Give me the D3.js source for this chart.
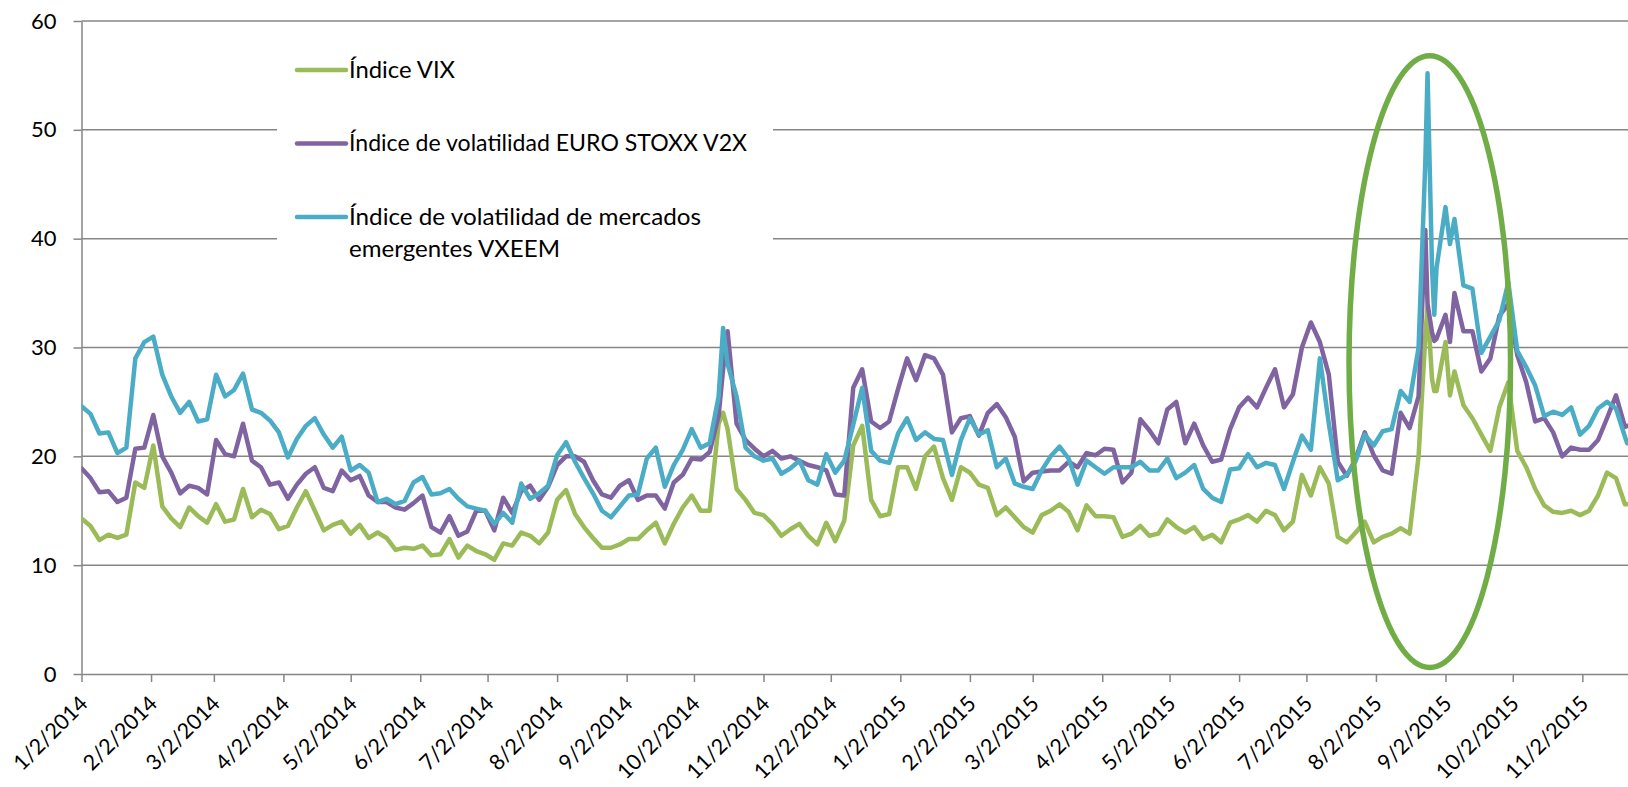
<!DOCTYPE html>
<html>
<head>
<meta charset="utf-8">
<script src="https://cdn.jsdelivr.net/npm/d3@7"></script>
<style>
  body { margin: 0; background: #fff; }
  svg text { font-family: Lato, "DejaVu Sans", sans-serif; fill: #000; }
</style>
</head>
<body>
<svg id="chart" width="1628" height="787"></svg>
<script>
// sample dates (roughly every 4 days, plus the spike days)
const dates = [
  "2014-01-02","2014-01-06","2014-01-10","2014-01-14","2014-01-18","2014-01-22","2014-01-26","2014-01-30",
  "2014-02-03","2014-02-07","2014-02-11","2014-02-15","2014-02-19","2014-02-23","2014-02-27",
  "2014-03-03","2014-03-07","2014-03-11","2014-03-15","2014-03-19","2014-03-23","2014-03-27","2014-03-31",
  "2014-04-04","2014-04-08","2014-04-12","2014-04-16","2014-04-20","2014-04-24","2014-04-28",
  "2014-05-02","2014-05-06","2014-05-10","2014-05-14","2014-05-18","2014-05-22","2014-05-26","2014-05-30",
  "2014-06-03","2014-06-07","2014-06-11","2014-06-15","2014-06-19","2014-06-23","2014-06-27",
  "2014-07-01","2014-07-05","2014-07-09","2014-07-13","2014-07-17","2014-07-21","2014-07-25","2014-07-29",
  "2014-08-02","2014-08-06","2014-08-10","2014-08-14","2014-08-18","2014-08-22","2014-08-26","2014-08-30",
  "2014-09-03","2014-09-07","2014-09-11","2014-09-15","2014-09-19","2014-09-23","2014-09-27",
  "2014-10-01","2014-10-05","2014-10-09","2014-10-13","2014-10-15","2014-10-17","2014-10-21","2014-10-25","2014-10-29",
  "2014-11-02","2014-11-06","2014-11-10","2014-11-14","2014-11-18","2014-11-22","2014-11-26","2014-11-30",
  "2014-12-04","2014-12-08","2014-12-12","2014-12-16","2014-12-20","2014-12-24","2014-12-28",
  "2015-01-01","2015-01-05","2015-01-09","2015-01-13","2015-01-17","2015-01-21","2015-01-25","2015-01-29",
  "2015-02-02","2015-02-06","2015-02-10","2015-02-14","2015-02-18","2015-02-22","2015-02-26",
  "2015-03-02","2015-03-06","2015-03-10","2015-03-14","2015-03-18","2015-03-22","2015-03-26","2015-03-30",
  "2015-04-03","2015-04-07","2015-04-11","2015-04-15","2015-04-19","2015-04-23","2015-04-27",
  "2015-05-01","2015-05-05","2015-05-09","2015-05-13","2015-05-17","2015-05-21","2015-05-25","2015-05-29",
  "2015-06-02","2015-06-06","2015-06-10","2015-06-14","2015-06-18","2015-06-22","2015-06-26","2015-06-30",
  "2015-07-04","2015-07-08","2015-07-12","2015-07-16","2015-07-20","2015-07-24","2015-07-28",
  "2015-08-01","2015-08-05","2015-08-09","2015-08-13","2015-08-17","2015-08-21","2015-08-24","2015-08-25","2015-08-27","2015-08-28","2015-08-29",
  "2015-09-02","2015-09-04","2015-09-06","2015-09-10","2015-09-14","2015-09-18","2015-09-22","2015-09-26","2015-09-30",
  "2015-10-04","2015-10-08","2015-10-12","2015-10-16","2015-10-20","2015-10-24","2015-10-28",
  "2015-11-01","2015-11-05","2015-11-09","2015-11-13","2015-11-17","2015-11-21","2015-11-22"
];

const vix = [
  14.3,13.6,12.3,12.8,12.5,12.8,17.6,17.1,
  21.0,15.4,14.3,13.5,15.3,14.5,13.9,
  15.6,14.0,14.2,17.0,14.4,15.1,14.7,13.3,
  13.6,15.3,16.8,15.0,13.2,13.7,14.0,
  12.9,13.7,12.5,13.0,12.5,11.4,11.6,11.5,
  11.8,10.9,11.0,12.4,10.7,11.8,11.3,
  11.0,10.5,12.0,11.8,13.0,12.7,12.0,13.0,
  16.0,16.9,14.7,13.5,12.5,11.6,11.6,11.9,
  12.4,12.4,13.2,13.9,12.0,13.8,15.3,
  16.4,15.0,15.0,23.0,24.0,22.5,17.0,16.0,14.8,
  14.6,13.8,12.7,13.3,13.8,12.7,11.9,13.9,
  12.2,14.1,21.0,22.8,16.0,14.5,14.7,
  19.0,19.0,17.0,20.0,20.9,18.0,16.0,19.0,
  18.5,17.4,17.1,14.6,15.3,14.4,13.5,
  13.0,14.6,15.0,15.6,14.9,13.2,15.5,14.5,
  14.5,14.4,12.6,12.9,13.6,12.7,12.9,
  14.2,13.5,13.0,13.5,12.4,12.8,12.1,13.9,
  14.2,14.6,14.0,15.0,14.6,13.2,14.0,18.3,
  16.4,19.0,17.5,12.6,12.1,13.0,14.0,
  12.1,12.6,12.9,13.4,12.9,20.0,31.0,33.8,27.1,26.0,26.0,
  30.5,25.6,27.8,24.7,23.5,22.0,20.5,24.5,26.8,
  20.5,19.0,17.0,15.5,14.9,14.8,15.0,
  14.6,15.0,16.4,18.5,18.0,15.6,15.6
];

const v2x = [
  18.9,18.0,16.7,16.8,15.8,16.2,20.7,20.8,
  23.8,20.0,18.5,16.6,17.3,17.1,16.5,
  21.5,20.2,20.0,23.0,19.6,19.0,17.4,17.6,
  16.1,17.4,18.4,19.0,17.1,16.8,18.7,
  17.8,18.2,16.4,15.8,15.8,15.3,15.1,15.7,
  16.4,13.5,13.0,14.5,12.7,13.1,15.0,
  15.0,13.2,16.2,14.8,16.8,17.3,16.0,17.2,
  19.2,20.0,20.0,19.5,17.8,16.5,16.2,17.3,
  17.8,16.0,16.4,16.4,15.2,17.6,18.3,
  19.8,19.7,20.4,23.7,28.0,31.5,23.0,21.5,20.7,
  20.0,20.5,19.8,20.0,19.6,19.2,19.0,18.7,
  16.5,16.4,26.3,28.0,23.2,22.6,23.2,
  26.2,29.0,27.0,29.3,29.0,27.5,22.2,23.5,
  23.7,21.9,24.0,24.8,23.6,21.8,17.7,
  18.5,18.6,18.7,18.7,19.5,19.0,20.3,20.1,
  20.7,20.6,17.6,18.5,23.4,22.4,21.2,
  24.3,25.0,21.2,23.0,21.0,19.5,19.7,22.5,
  24.5,25.4,24.5,26.3,28.0,24.5,25.7,30.0,
  32.3,30.5,27.5,19.5,18.2,19.8,22.2,
  20.1,18.7,18.4,24.0,22.6,25.5,40.8,34.0,31.4,30.6,30.8,
  33.0,30.5,35.0,31.5,31.5,27.8,29.0,32.9,34.0,
  29.3,26.8,23.2,23.5,22.2,20.0,20.8,
  20.6,20.6,21.5,23.5,25.6,22.7,22.8
];

const vxeem = [
  24.6,23.9,22.1,22.2,20.3,20.8,29.0,30.5,
  31.0,27.5,25.5,24.0,25.0,23.2,23.4,
  27.5,25.5,26.1,27.6,24.3,24.0,23.3,22.2,
  19.9,21.6,22.8,23.5,22.0,20.8,21.8,
  18.7,19.2,18.5,15.8,16.1,15.6,15.9,17.6,
  18.1,16.5,16.6,17.0,16.1,15.4,15.2,
  15.0,13.8,14.8,13.9,17.5,16.1,16.6,17.3,
  20.1,21.3,19.5,18.0,16.6,15.0,14.4,15.4,
  16.4,16.5,19.8,20.8,17.2,19.2,20.6,
  22.5,20.8,21.2,25.5,31.8,28.5,25.5,20.8,20.0,
  19.6,19.8,18.4,18.9,19.6,17.8,17.4,20.2,
  18.5,19.6,22.9,26.3,20.5,19.6,19.4,
  22.1,23.5,21.5,22.2,21.6,21.5,18.3,21.5,
  23.5,22.0,22.4,19.0,19.8,17.5,17.2,
  17.0,18.7,20.0,20.9,19.8,17.4,19.6,19.0,
  18.4,19.0,19.0,19.0,19.5,18.7,18.7,
  19.8,18.0,18.5,19.2,17.0,16.2,15.8,18.8,
  18.9,20.2,19.0,19.4,19.2,17.0,19.5,21.9,
  20.6,29.0,23.0,17.8,18.3,19.6,22.0,
  21.0,22.3,22.5,26.0,25.0,30.0,47.0,55.2,37.3,33.0,37.3,
  42.9,39.5,41.8,35.7,35.4,29.5,31.0,32.5,36.0,
  29.7,28.2,26.5,23.7,24.1,23.8,24.5,
  22.0,22.8,24.4,25.0,24.4,21.8,21.2
];

const seriesNames = [
  "Índice VIX",
  "Índice de volatilidad EURO STOXX V2X",
  "Índice de volatilidad de mercados emergentes VXEEM"
];
const seriesColors = ["#9BBB59", "#8064A2", "#4BACC6"];

const yTicks = [0, 10, 20, 30, 40, 50, 60];
const xTicks = [
  "2014-01-02","2014-02-02","2014-03-02","2014-04-02","2014-05-02","2014-06-02",
  "2014-07-02","2014-08-02","2014-09-02","2014-10-02","2014-11-02","2014-12-02",
  "2015-01-02","2015-02-02","2015-03-02","2015-04-02","2015-05-02","2015-06-02",
  "2015-07-02","2015-08-02","2015-09-02","2015-10-02","2015-11-02"
];

const svg = d3.select("#chart");
const parse = d3.timeParse("%Y-%m-%d");

const plotLeft = 81.5, plotRight = 81.5 + 690 * 2.2434;
const plotTop = 21, plotBottom = 674;

const x = d3.scaleTime()
  .domain([parse("2014-01-02"), parse("2015-11-23")])
  .range([plotLeft, plotRight]);
const y = d3.scaleLinear().domain([0, 60]).range([plotBottom, plotTop]);

const gridColor = "#868686";

// horizontal gridlines
svg.append("g")
  .selectAll("line")
  .data(yTicks.filter(v => v > 0))
  .join("line")
  .attr("x1", plotLeft)
  .attr("x2", 1628)
  .attr("y1", d => y(d))
  .attr("y2", d => y(d))
  .attr("stroke", gridColor)
  .attr("stroke-width", 1.5);

// y axis
const yAxis = svg.append("g")
  .attr("transform", `translate(${plotLeft},0)`)
  .call(d3.axisLeft(y).tickValues(yTicks).tickSize(8).tickSizeOuter(0).tickPadding(17));
yAxis.select(".domain").attr("stroke", gridColor).attr("stroke-width", 1.5);
yAxis.selectAll(".tick line").attr("stroke", gridColor).attr("stroke-width", 1.5);
yAxis.selectAll("text").attr("font-size", 22).style("font-family", "Lato");

// x axis
const fmt = d3.timeFormat("%-m/%-d/%Y");
const xAxis = svg.append("g")
  .attr("transform", `translate(0,${plotBottom})`)
  .call(d3.axisBottom(x).tickValues(xTicks.map(parse)).tickFormat(fmt).tickSize(8).tickSizeOuter(0));
xAxis.select(".domain").attr("stroke", gridColor).attr("stroke-width", 1.5);
xAxis.selectAll(".tick line").attr("stroke", gridColor).attr("stroke-width", 1.5);
xAxis.selectAll("text")
  .attr("font-size", 21.5)
  .style("font-family", "Lato")
  .attr("text-anchor", "end")
  .attr("x", 0).attr("y", 0).attr("dy", 0)
  .attr("transform", "translate(7,31) rotate(-45)");

// legend box (hides gridlines behind it)
const legend = svg.append("g");
legend.append("rect")
  .attr("x", 277).attr("y", 36)
  .attr("width", 496).attr("height", 232)
  .attr("fill", "#fff");

const legendRows = [
  { lines: [seriesNames[0]], cy: 70, widths: [106] },
  { lines: [seriesNames[1]], cy: 143.5, widths: [398] },
  { lines: ["Índice de volatilidad de mercados", "emergentes VXEEM"], cy: 217, widths: [352, 211] }
];

legendRows.forEach((row, i) => {
  legend.append("line")
    .attr("x1", 297).attr("x2", 346)
    .attr("y1", row.cy).attr("y2", row.cy)
    .attr("stroke", seriesColors[i])
    .attr("stroke-width", 4.5)
    .attr("stroke-linecap", "round");
  row.lines.forEach((t, j) => {
    legend.append("text")
      .attr("x", 349)
      .attr("y", row.cy + 7.5 + j * 32.5)
      .attr("font-size", 23)
      .attr("textLength", row.widths[j])
      .attr("lengthAdjust", "spacingAndGlyphs")
      .text(t);
  });
});

// series
const seriesData = [vix, v2x, vxeem].map((vals, i) => ({
  name: seriesNames[i],
  color: seriesColors[i],
  points: dates.map((d, k) => ({ date: parse(d), value: vals[k] }))
}));

svg.append("clipPath").attr("id", "plotClip")
  .append("rect").attr("x", plotLeft).attr("y", 0).attr("width", 1628 - plotLeft).attr("height", plotBottom);

const line = d3.line()
  .x(d => x(d.date))
  .y(d => y(d.value));

svg.append("g")
  .attr("clip-path", "url(#plotClip)")
  .selectAll("path")
  .data(seriesData)
  .join("path")
  .attr("fill", "none")
  .attr("stroke", d => d.color)
  .attr("stroke-width", 4.5)
  .attr("stroke-linejoin", "round")
  .attr("stroke-linecap", "round")
  .attr("d", d => line(d.points));

// highlight ellipse around the August 2015 spike
const ellCenter = parse("2015-08-26");
svg.append("ellipse")
  .attr("cx", x(ellCenter))
  .attr("cy", y(28.7))
  .attr("rx", x(d3.timeDay.offset(ellCenter, 36)) - x(ellCenter))
  .attr("ry", y(0) - y(28.1))
  .attr("fill", "none")
  .attr("stroke", "#70AD47")
  .attr("stroke-width", 5.5);
</script>
</body>
</html>
